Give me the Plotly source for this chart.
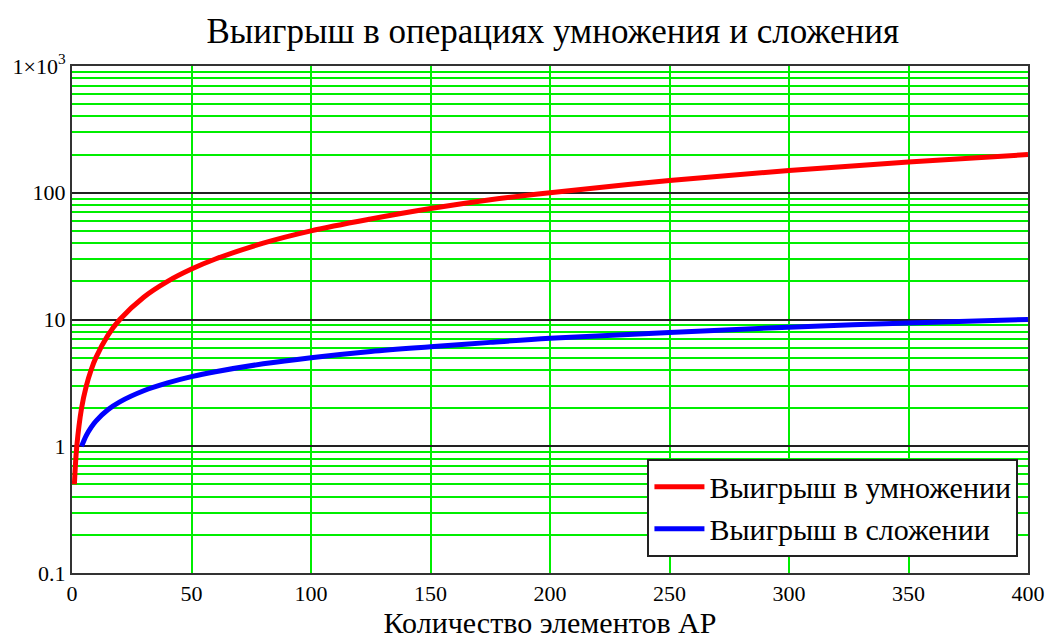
import plotly.graph_objects as go

# Data
n_mult = [1, 2, 4, 6, 8, 10, 15, 20, 30, 40, 50, 60, 80, 100, 125, 150, 175, 200, 250, 300, 350, 400]
gain_mult = [0.5, 1.0, 2.0, 3.0, 4.0, 5.0, 7.5, 10, 15, 20, 25, 30, 40, 50, 62, 75, 88, 100, 125, 150, 175, 200]

n_add = [4, 6, 8, 10, 15, 20, 30, 40, 50, 60, 80, 100, 125, 150, 175, 200, 250, 300, 350, 400]
gain_add = [1.0, 1.22, 1.41, 1.58, 1.94, 2.24, 2.74, 3.16, 3.54, 3.87, 4.47, 5.0, 5.6, 6.1, 6.6, 7.1, 7.9, 8.7, 9.4, 10.0]

x_ticks = [0, 50, 100, 150, 200, 250, 300, 350, 400]
y_ticks = [0.1, 1, 10, 100, 1000]
y_tick_text = ["0.1", "1", "10", "100", "1×10<sup>3</sup>"]
y_minor = [m * 10 ** e for e in range(-1, 3) for m in range(2, 10)]

title_text = "Выигрыш в операциях умножения и сложения"
x_title = "Количество элементов АР"
name_mult = "Выигрыш в умножении"
name_add = "Выигрыш в сложении"

font_family = "Liberation Serif, Times New Roman, serif"

fig = go.Figure()
fig.add_trace(go.Scatter(x=n_mult, y=gain_mult, mode="lines", name=name_mult,
                         line=dict(color="#ff0000", width=5, shape="spline")))
fig.add_trace(go.Scatter(x=n_add, y=gain_add, mode="lines", name=name_add,
                         line=dict(color="#0000ff", width=5, shape="spline")))

fig.update_layout(
    width=1057, height=644,
    margin=dict(l=72, r=24, t=66, b=71),
    paper_bgcolor="white", plot_bgcolor="white",
    font=dict(family=font_family, color="black", size=22),
    title=dict(text=title_text, x=0.523, xanchor="center", y=0.953, yanchor="middle",
               font=dict(size=35, family=font_family, color="black")),
    showlegend=True,
    legend=dict(x=0.99, xanchor="right", y=0.032, yanchor="bottom",
                bgcolor="white", bordercolor="#222", borderwidth=2,
                font=dict(size=30, family=font_family, color="black"),
                itemwidth=50, tracegroupgap=0),
)

fig.update_xaxes(
    range=[0, 400], tickvals=x_ticks, ticktext=[str(v) for v in x_ticks],
    showgrid=True, gridcolor="#00ee00", gridwidth=1.5,
    showline=True, linecolor="#333", linewidth=2, mirror=True,
    zeroline=False, ticks="", ticklen=0,
    tickfont=dict(size=22, family=font_family),
    title=dict(text=x_title, font=dict(size=30, family=font_family), standoff=4),
)
fig.update_yaxes(
    type="log", range=[-1, 3], tickvals=y_ticks, ticktext=y_tick_text,
    showgrid=True, gridcolor="#222", gridwidth=1.5,
    showline=True, linecolor="#333", linewidth=2, mirror=True,
    zeroline=False, ticks="", ticklen=0,
    tickfont=dict(size=22, family=font_family),
    minor=dict(tickmode="array", tickvals=y_minor, showgrid=True,
               gridcolor="#00ee00", gridwidth=1.5, ticks=""),
)

fig.write_html("out.html")
